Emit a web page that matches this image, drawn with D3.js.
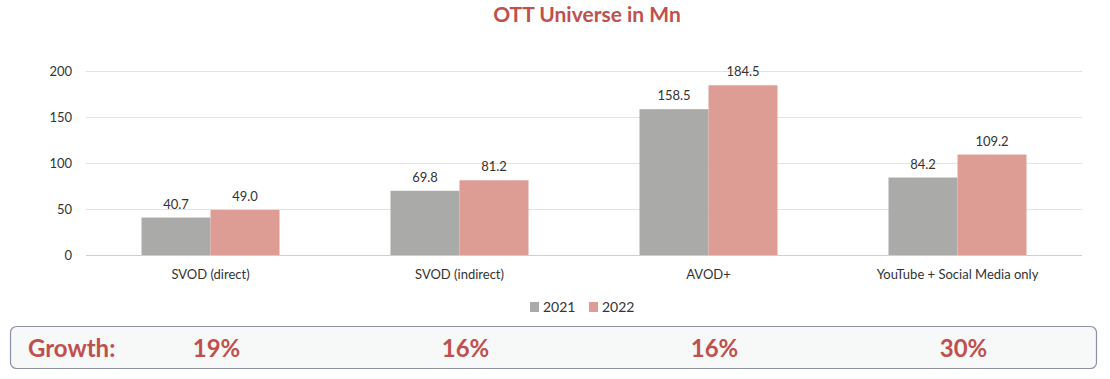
<!DOCTYPE html>
<html>
<head>
<meta charset="utf-8">
<script src="https://cdn.jsdelivr.net/npm/d3@7"></script>
<style>
  body { margin: 0; background: #fff; font-family: Lato, "Noto Sans", sans-serif; }
</style>
</head>
<body>
<div id="chart"></div>
<script>
// chart data
var categories = ["SVOD (direct)", "SVOD (indirect)", "AVOD+", "YouTube + Social Media only"];
var years = ["2021", "2022"];
var values2021 = [40.7, 69.8, 158.5, 84.2];
var values2022 = [49.0, 81.2, 184.5, 109.2];
var growth = ["19%", "16%", "16%", "30%"];
var yTicks = [0, 50, 100, 150, 200];

var colors = ["#aaaaa9", "#dd9d94"];
var red = "#c0504d";

var w = 1110, h = 379;
var margin = { left: 86, right: 28, top: 71, bottom: 124 };

var svg = d3.select("#chart").append("svg")
    .attr("width", w)
    .attr("height", h);

// title
svg.append("text")
    .attr("x", 587).attr("y", 22)
    .attr("text-anchor", "middle")
    .attr("font-size", 21).attr("font-weight", "bold")
    .attr("fill", red)
    .text("OTT Universe in Mn");

var x0 = d3.scaleBand()
    .domain(categories)
    .range([margin.left, w - margin.right]);

var x1 = d3.scaleBand()
    .domain(years)
    .range([0, 138])
    .padding(0);

var y = d3.scaleLinear()
    .domain([0, 200])
    .range([h - margin.bottom, margin.top]);

// gridlines
svg.append("g").selectAll("line")
    .data(yTicks)
    .enter().append("line")
    .attr("x1", margin.left).attr("x2", w - margin.right)
    .attr("y1", function(d) { return y(d) + 0.5; })
    .attr("y2", function(d) { return y(d) + 0.5; })
    .attr("stroke", function(d) { return d === 0 ? "#cfcfcf" : "#e3e3e3"; })
    .attr("stroke-width", 1);

// y axis labels
var yAxis = d3.axisLeft(y).tickValues(yTicks).tickSize(0).tickPadding(14);
var gy = svg.append("g")
    .attr("transform", "translate(" + margin.left + ",0)")
    .call(yAxis);
gy.select(".domain").remove();
gy.selectAll("text").attr("font-size", 13).attr("fill", "#333").attr("font-family", "Lato, sans-serif");

// x axis labels
var xAxis = d3.axisBottom(x0).tickSize(0).tickPadding(15);
var gx = svg.append("g")
    .attr("transform", "translate(0," + y(0) + ")")
    .call(xAxis);
gx.select(".domain").remove();
gx.selectAll("text").attr("font-size", 13).attr("fill", "#333").attr("font-family", "Lato, sans-serif");

// bars
var series = [values2021, values2022];
var groups = svg.append("g").selectAll("g")
    .data(categories)
    .enter().append("g")
    .attr("transform", function(d) {
        return "translate(" + (x0(d) + x0.bandwidth() / 2 - 69) + ",0)";
    });

groups.selectAll("rect")
    .data(function(d, i) { return years.map(function(yr, j) { return { year: yr, v: series[j][i], j: j }; }); })
    .enter().append("rect")
    .attr("x", function(d) { return x1(d.year); })
    .attr("y", function(d) { return y(d.v); })
    .attr("width", x1.bandwidth())
    .attr("height", function(d) { return y(0) - y(d.v); })
    .attr("fill", function(d) { return colors[d.j]; });

// value labels
groups.selectAll("text")
    .data(function(d, i) { return years.map(function(yr, j) { return { year: yr, v: series[j][i], j: j }; }); })
    .enter().append("text")
    .attr("x", function(d) { return x1(d.year) + x1.bandwidth() / 2; })
    .attr("y", function(d) { return y(d.v) - 9; })
    .attr("text-anchor", "middle")
    .attr("font-size", 13).attr("fill", "#333")
    .text(function(d) { return d.v.toFixed(1); });

// legend
var legend = svg.append("g").selectAll("g")
    .data(years)
    .enter().append("g")
    .attr("transform", function(d, i) { return "translate(" + (530 + i * 59) + ",302)"; });
legend.append("rect")
    .attr("width", 9).attr("height", 10)
    .attr("fill", function(d, i) { return colors[i]; });
legend.append("text")
    .attr("x", 13).attr("y", 10)
    .attr("font-size", 14).attr("fill", "#333")
    .text(function(d) { return d; });

// growth box
svg.append("rect")
    .attr("x", 10.5).attr("y", 326.5)
    .attr("width", 1086).attr("height", 42)
    .attr("rx", 6)
    .attr("fill", "#f7f8f8")
    .attr("stroke", "#8d91a6")
    .attr("stroke-width", 1.2);

svg.append("text")
    .attr("x", 28).attr("y", 357)
    .attr("font-size", 24).attr("font-weight", "bold")
    .attr("fill", red)
    .text("Growth:");

svg.append("g").selectAll("text")
    .data(growth)
    .enter().append("text")
    .attr("x", function(d, i) { return x0(categories[i]) + x0.bandwidth() / 2 + 6; })
    .attr("y", 357)
    .attr("text-anchor", "middle")
    .attr("font-size", 24).attr("font-weight", "bold")
    .attr("fill", red)
    .text(function(d) { return d; });
</script>
</body>
</html>
